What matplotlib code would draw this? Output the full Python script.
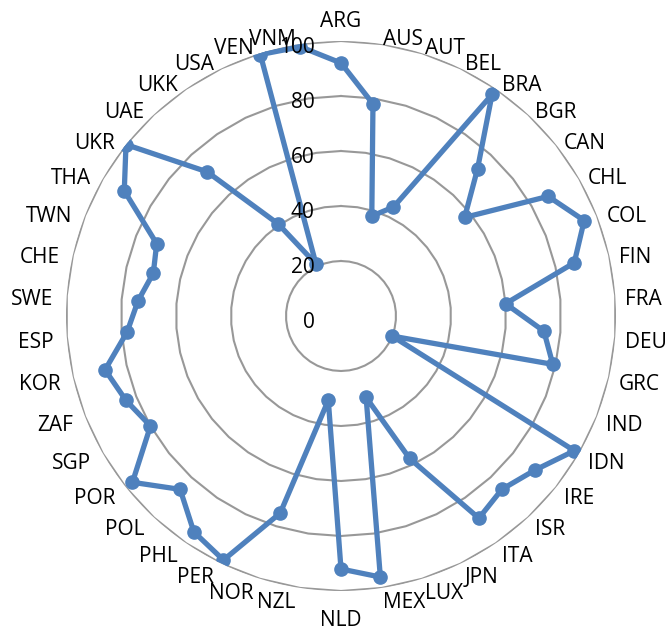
import numpy as np
import matplotlib
matplotlib.use("Agg")
import matplotlib.pyplot as plt

categories = ["ARG", "AUS", "AUT", "BEL", "BRA", "BGR", "CAN", "CHL", "COL", "FIN",
              "FRA", "DEU", "GRC", "IND", "IDN", "IRE", "ISR", "ITA", "JPN", "LUX",
              "MEX", "NLD", "NZL", "NOR", "PER", "PHL", "POL", "POR", "SGP", "ZAF",
              "KOR", "ESP", "SWE", "CHE", "TWN", "THA", "UKR", "UAE", "UKK", "USA",
              "VEN", "VNM"]
values = [92, 78, 38, 44, 97.5, 73, 57.5, 87, 95, 87,
          60, 74, 79, 20, 98, 90, 86, 89, 57.5, 31,
          96, 92, 31, 75, 98.5, 95, 86, 97, 80, 84,
          88, 78, 74, 70, 72, 91, 100, 71.5, 40.5, 21,
          99.5, 99]
ring_levels = [20, 40, 60, 80, 100]
tick_labels = ["0", "20", "40", "60", "80", "100"]
tick_values = [0, 20, 40, 60, 80, 100]

plt.rcParams['font.family'] = ['Open Sans', 'DejaVu Sans']

W, H = 669, 631
fig = plt.figure(figsize=(W / 100, H / 100), dpi=100)
cx, cy, R = 341, 316, 275
ax = fig.add_axes([(cx - R) / W, (H - cy - R) / H, 2 * R / W, 2 * R / H], projection='polar')
ax.set_theta_offset(np.pi / 2)
ax.set_theta_direction(-1)
ax.set_ylim(0, 100)
ax.grid(False)
ax.set_xticks([])
ax.set_yticks([])
ax.spines['polar'].set_visible(False)
ax.patch.set_visible(False)

n = len(categories)
angles = np.arange(n) * 2 * np.pi / n
closed = np.append(angles, angles[0])

grid_color = '#989898'
for lv in ring_levels:
    ax.plot(closed, [lv] * (n + 1), color=grid_color, lw=1.5, zorder=1)

vals = np.append(values, values[0])
ax.plot(closed, vals, color='#4F81BD', lw=3.8, zorder=3, solid_joinstyle='round')
ax.plot(angles, values, 'o', color='#4F81BD', ms=9.5, zorder=4)

fs = 15
for i, lab in enumerate(categories):
    th = angles[i]
    s, c = np.sin(th), np.cos(th)
    dx, dy = 10 * s, 10 * c
    if i == 0:
        ha = 'center'
        dy += 4.3
    elif abs(np.degrees(th) - 180) < 1e-6:
        ha = 'center'
        dy -= 24.5
    elif s > 0:
        ha = 'left'
        dy -= 10.5
    else:
        ha = 'right'
        dx -= 3
        dy -= 10.5
    ax.annotate(lab, xy=(th, 100), xytext=(dx, dy), textcoords='offset pixels',
                ha=ha, va='baseline', fontsize=fs, annotation_clip=False, zorder=5)

for v, t in zip(tick_values, tick_labels):
    ax.annotate(t, xy=(0, v), xytext=(-26.5, -12), textcoords='offset pixels',
                ha='right', va='baseline', fontsize=fs, annotation_clip=False, zorder=6)

fig.savefig('out.png', dpi=100)
